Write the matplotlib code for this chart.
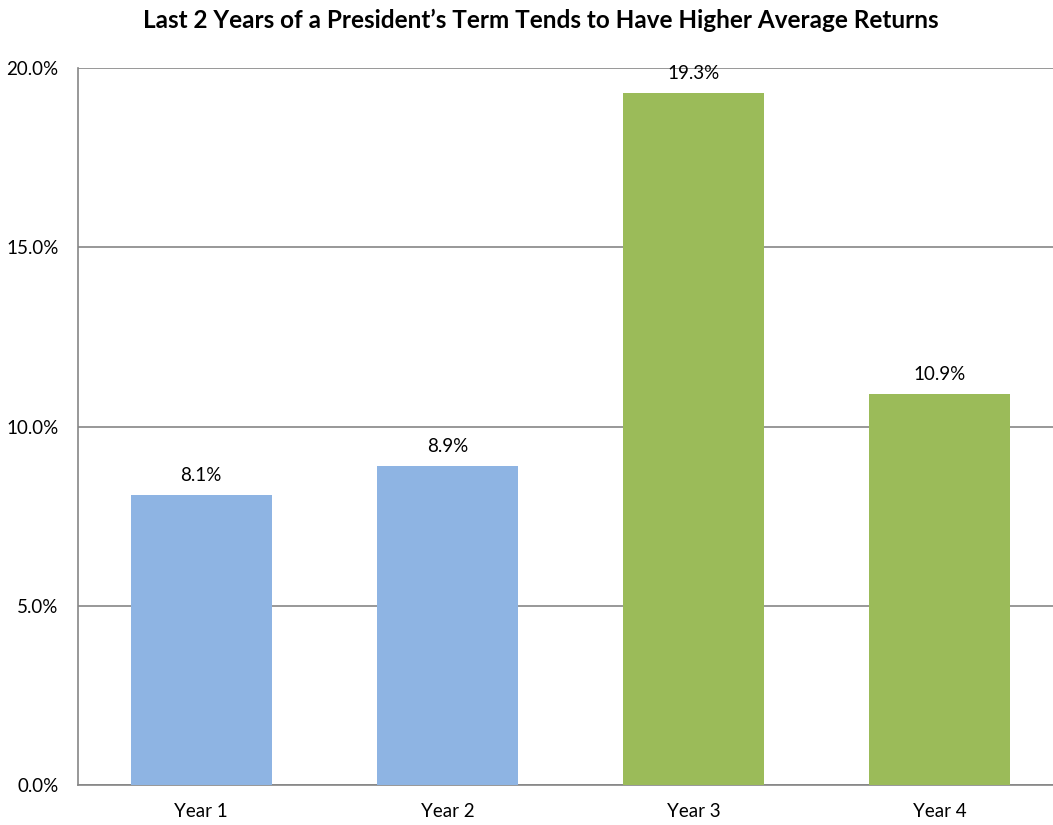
import matplotlib
matplotlib.use("Agg")
import matplotlib.pyplot as plt
from matplotlib.ticker import FuncFormatter

categories = ["Year 1", "Year 2", "Year 3", "Year 4"]
values = [8.1, 8.9, 19.3, 10.9]
colors = ["#8EB4E3", "#8EB4E3", "#9BBB59", "#9BBB59"]
yticks = [0, 5, 10, 15, 20]
title = "Last 2 Years of a President\u2019s Term Tends to Have Higher Average Returns"

plt.rcParams['font.family'] = ['Lato', 'DejaVu Sans']

fig = plt.figure(figsize=(10.53, 8.25), dpi=100)
ax = fig.add_axes([78/1053, 1-785/825, 1-78/1053, (785-68)/825])

x = list(range(len(categories)))
bars = ax.bar(x, values, width=0.573, color=colors, zorder=3)
for xi, v in zip(x, values):
    ax.text(xi, v + 0.3, f"{v:.1f}%", ha="center", va="bottom", fontsize=13.5, color="#000000")

ax.set_ylim(0, 20)
ax.set_xlim(-0.5, 3.5 - 10/246)
ax.set_yticks(yticks)
ax.yaxis.set_major_formatter(FuncFormatter(lambda v, p: f"{v:.1f}%"))
ax.set_xticks(x)
ax.set_xticklabels(categories)
ax.tick_params(axis="both", length=0, labelsize=13.5, colors="#000000")
ax.tick_params(axis="y", pad=14)
ax.tick_params(axis="x", pad=13)
ax.grid(axis="y", color="#868686", linewidth=1.2, zorder=0)
for s in ["top", "right"]:
    ax.spines[s].set_visible(False)
for s in ["left", "bottom"]:
    ax.spines[s].set_color("#868686")
    ax.spines[s].set_linewidth(1.2)

fig.text(541/1053, 1-20/825, title, ha="center", va="center", fontsize=17.5, fontweight="bold")

fig.savefig("out.png", dpi=100)
